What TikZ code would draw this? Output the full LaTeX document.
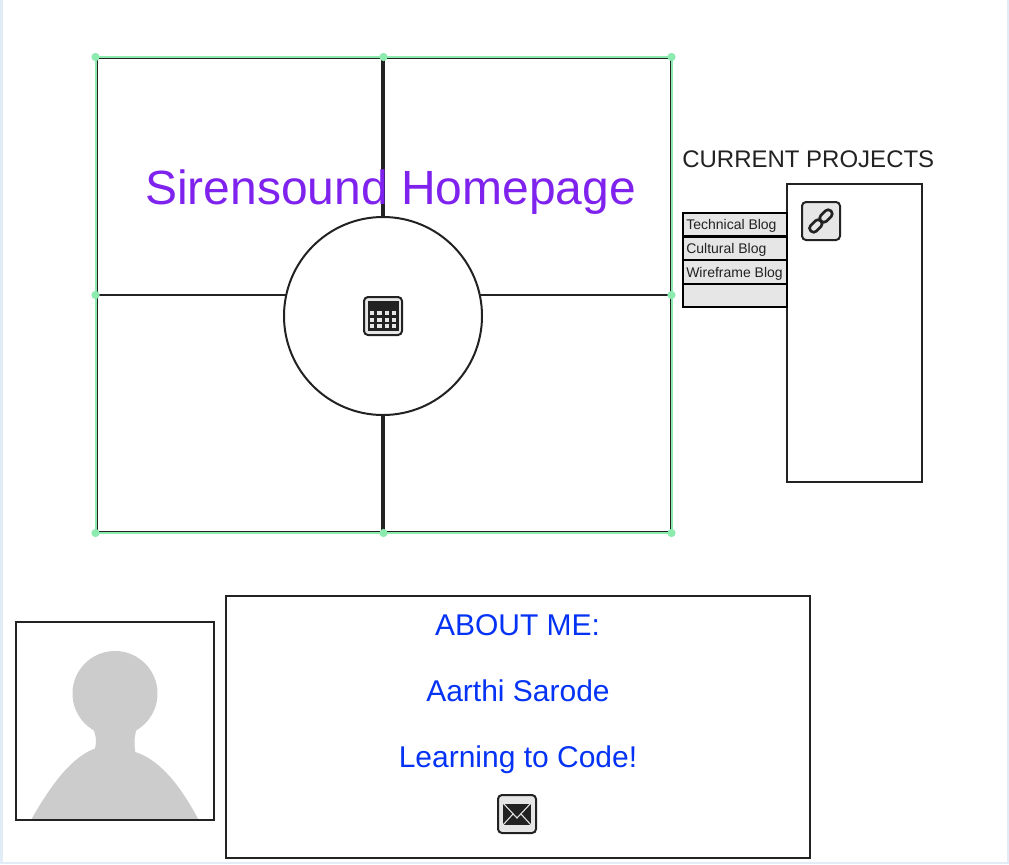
\documentclass[tikz,border=0pt]{standalone}
\usepackage{fontspec}
\setmainfont{Liberation Sans}
\definecolor{ink}{HTML}{222222}
\definecolor{pagebg}{HTML}{E1ECF7}
\definecolor{handle}{HTML}{8EEBB0}
\definecolor{titlecol}{HTML}{7F22EE}
\definecolor{aboutcol}{HTML}{0433F5}
\definecolor{btn}{HTML}{E6E6E6}
\definecolor{person}{HTML}{CCCCCC}
\tikzset{
  pxsize/.style 2 args={minimum width=#1*0.75pt,minimum height=#2*0.75pt},
  wire/.style={draw=ink,line width=1.5pt,fill=white,inner sep=0pt,outer sep=0pt,rectangle},
  row/.style={draw=black,line width=1.7pt,fill=btn,inner sep=0pt,outer sep=0pt,rectangle,pxsize={104}{24}},
  btnbox/.style={draw=ink,line width=1.5pt,fill=btn,rounded corners=3pt,inner sep=0pt,outer sep=0pt,rectangle,pxsize={38}{38}},
  rowtext/.style={anchor=base west,inner sep=0pt,text=ink,font=\fontsize{10.5pt}{12pt}\selectfont},
  abouttext/.style={anchor=base,inner sep=0pt,text=aboutcol,font=\fontsize{22.5pt}{26pt}\selectfont},
  dot/.style={circle,fill=handle,inner sep=0pt,minimum size=6.2pt},
  divider/.style={draw=ink,line width=1.5pt},
  dividerthick/.style={draw=ink,line width=2.3pt},
}
\begin{document}
\begin{tikzpicture}[x=0.75pt,y=-0.75pt]
\useasboundingbox (0,0) rectangle (1009,864);
\fill[pagebg] (0,0) rectangle (1009,864);
\fill[white] (3,0) rectangle (1007,862);

% main wireframe
\node[wire,pxsize={574}{474}] (frame) at (383.5,295) {};
\node[circle,draw=ink,line width=1.5pt,fill=white,inner sep=0pt,outer sep=0pt,minimum size=148.5pt] (clock) at (383,316) {};
\draw[dividerthick] (frame.north -| clock.north) -- (clock.north);
\draw[dividerthick] (clock.south) -- (frame.south -| clock.south);
\draw[divider] (frame.west) -- (frame.west -| clock.167.8);
\draw[divider] (frame.east -| clock.12.2) -- (frame.east);

\node[anchor=base,inner sep=0pt,text=titlecol,font=\fontsize{36pt}{42pt}\selectfont] (title) at (390.5,204) {Sirensound Homepage};

% selection outline and handles
\node[draw=handle,line width=1.5pt,inner sep=0pt,outer sep=0pt,rectangle,pxsize={576}{476}] (sel) at (383.5,295) {};
\foreach \a/\n in {north west/a,north/b,north east/c,west/d,east/e,south west/f,south/g,south east/h}
  \node[dot] (h\n) at (sel.\a) {};

% calendar icon
\node[btnbox] (calbtn) at (383,316) {};
\fill[ink] (368,301) rectangle (399,331);
\foreach \x in {370,377.3,384.6,391.9}
  \foreach \y in {311,317.5,324}
    \fill[btn] (\x,\y) rectangle +(4.2,4.2);

% current projects
\node[anchor=base west,inner sep=0pt,text=ink,font=\fontsize{18pt}{21pt}\selectfont] (cp) at (682,167) {CURRENT PROJECTS};
\node[wire,pxsize={135}{298}] (panel) at (854.5,333) {};
\node[row] (r1) at (735,225) {};
\node[row] (r2) at (735,248.5) {};
\node[row] (r3) at (735,272) {};
\node[row,pxsize={104}{23}] (r4) at (735,295.5) {};
\node[rowtext] (t1) at (686,229) {Technical Blog};
\node[rowtext] (t2) at (686,253) {Cultural Blog};
\node[rowtext] (t3) at (686,277) {Wireframe Blog};

% link icon
\node[btnbox] (linkbtn) at (821,221) {};
\draw[ink,line width=2pt,rounded corners=2.7pt,rotate around={45:(815.8,226)}] (808.8,222) rectangle (822.8,230);
\draw[ink,line width=2pt,rounded corners=2.7pt,rotate around={45:(826,216)}] (819,212) rectangle (833,220);

% photo
\node[wire,pxsize={198}{198}] (photo) at (115,721) {};
\fill[person] (115,693.5) circle[radius=42.5];
\fill[person] (93.3,729) .. controls (96,735) and (97,742) .. (95,748.5)
  .. controls (72,757) and (52,783) .. (31,820) -- (198.7,820)
  .. controls (180,785) and (160,760) .. (135.3,752)
  .. controls (134,744) and (134,735) .. (137.3,728) -- cycle;
\draw[ink,line width=1.5pt] (photo.north west) rectangle (photo.south east);

% about box
\node[wire,pxsize={584}{262}] (about) at (518,727) {};
\node[abouttext] (ab1) at (517.5,635) {ABOUT ME:};
\node[abouttext] (ab2) at (518,701) {Aarthi Sarode};
\node[abouttext] (ab3) at (518,767) {Learning to Code!};

% envelope icon
\node[btnbox] (mailbtn) at (517,814) {};
\fill[ink] (503,802) rectangle (531,825);
\draw[btn,line width=0.8pt] (503,803) -- (531,803);
\draw[btn,line width=0.8pt] (503,803) -- (517,818) -- (531,803);
\draw[btn,line width=0.8pt] (503,825) -- (513,814);
\draw[btn,line width=0.8pt] (531,825) -- (521,814);
\end{tikzpicture}
\end{document}
